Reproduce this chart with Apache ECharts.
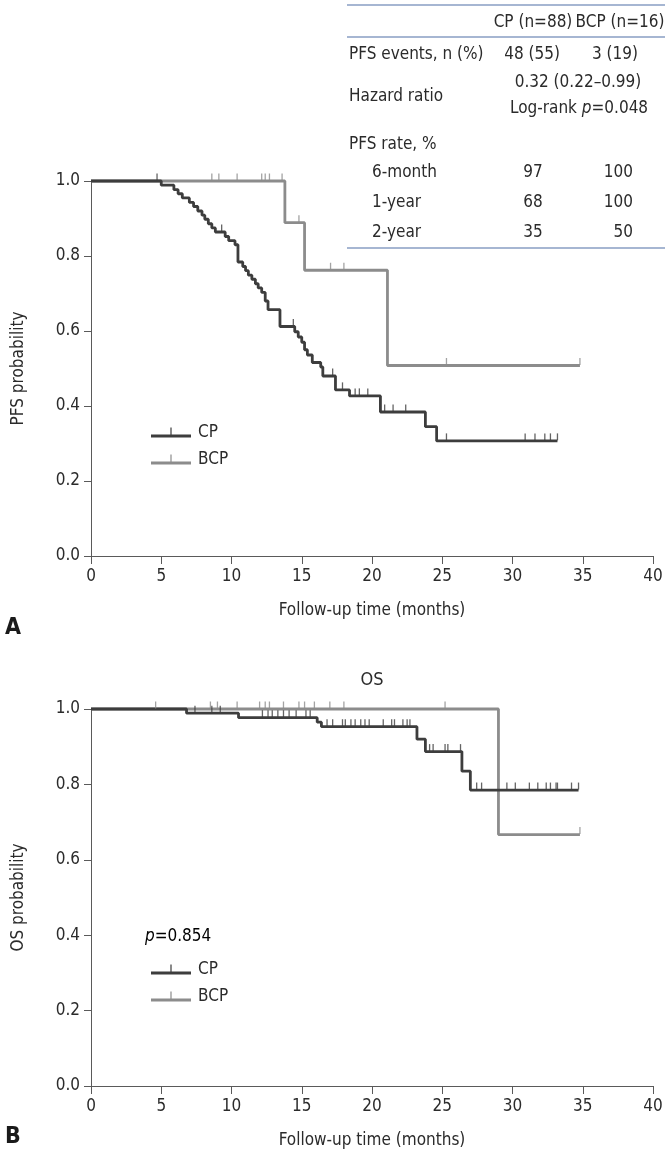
<!DOCTYPE html>
<html><head><meta charset="utf-8">
<script src="https://cdn.jsdelivr.net/npm/echarts@6/dist/echarts.min.js"></script>
<style>html,body{margin:0;padding:0;background:#fff}#c{width:668px;height:1156px}</style>
</head><body><div id="c"></div>
<script>
// ---------- data ----------
const xTicks = [0, 40, 5];            // min, max, interval (months)
const yTicks = [0, 1, 0.2];           // min, max, interval
const seriesNames = ['CP', 'BCP'];

// PFS, CP (Kaplan-Meier steps)
const pfsCpTime = [0, 5.0, 5.9, 6.2, 6.5, 7.0, 7.3, 7.6, 7.9, 8.1, 8.35, 8.6, 8.85, 9.55, 9.8, 10.25, 10.46, 10.8, 11.0, 11.2, 11.45, 11.7, 11.9, 12.15, 12.4, 12.6, 13.45, 14.5, 14.75, 15.0, 15.2, 15.4, 15.75, 16.35, 16.5, 17.4, 18.4, 20.6, 23.8, 24.6, 33.2];
const pfsCpSurv = [1, 0.989, 0.977, 0.966, 0.955, 0.943, 0.932, 0.920, 0.909, 0.898, 0.886, 0.875, 0.864, 0.852, 0.841, 0.830, 0.784, 0.772, 0.761, 0.749, 0.738, 0.726, 0.715, 0.703, 0.680, 0.657, 0.612, 0.598, 0.584, 0.570, 0.550, 0.536, 0.516, 0.504, 0.480, 0.443, 0.427, 0.384, 0.345, 0.307, 0.307];
const pfsCpCensor = [4.7, 9.3, 14.4, 17.2, 17.9, 18.8, 19.1, 19.7, 20.9, 21.5, 22.4, 25.3, 30.9, 31.6, 32.3, 32.7, 33.2];

// PFS, BCP
const pfsBcpTime = [0, 13.8, 15.2, 21.1, 34.8];
const pfsBcpSurv = [1, 0.889, 0.762, 0.508, 0.508];
const pfsBcpCensor = [8.6, 9.1, 10.4, 12.15, 12.4, 12.7, 13.6, 14.8, 17.05, 18.0, 25.3, 34.8];

// OS, CP
const osCpTime = [0, 6.8, 10.5, 16.1, 16.4, 23.2, 23.8, 26.4, 27.0, 34.7];
const osCpSurv = [1, 0.989, 0.977, 0.965, 0.953, 0.920, 0.887, 0.835, 0.785, 0.785];
const osCpCensor = [7.4, 8.6, 9.2, 12.2, 12.6, 12.9, 13.3, 13.7, 14.1, 14.6, 15.3, 15.6, 16.8, 17.2, 17.9, 18.1, 18.5, 18.8, 19.2, 19.5, 19.8, 20.8, 21.4, 21.6, 22.2, 22.5, 22.7, 24.1, 24.35, 25.2, 25.4, 26.3, 27.45, 27.8, 29.6, 30.2, 31.2, 31.8, 32.4, 32.7, 33.1, 33.2, 34.2, 34.7];

// OS, BCP
const osBcpTime = [0, 29.0, 34.8];
const osBcpSurv = [1, 0.667, 0.667];
const osBcpCensor = [4.6, 8.5, 9.0, 10.4, 12.0, 12.4, 12.7, 13.7, 14.8, 15.2, 15.9, 17.0, 18.0, 25.2, 34.8];

// table
const tableHead = ['CP (n=88)', 'BCP (n=16)'];
const tableEvents = ['PFS events, n (%)', '48 (55)', '3 (19)'];
const tableHazard = ['Hazard ratio', '0.32 (0.22\u20130.99)', '0.048'];
const tableRateTitle = 'PFS rate, %';
const tableRates = [['6-month', '97', '100'], ['1-year', '68', '100'], ['2-year', '35', '50']];
const osPValue = '0.854';

// ---------- helpers ----------
const FONT = "'Liberation Sans Narrow','DejaVu Sans Condensed','Roboto Condensed',sans-serif";
const TXT = '#2b2b2b';
const AX = '#5a5a5a';
const DARK = '#3d3d3d';
const GRAY = '#8c8c8c';
const BLUE = '#4f6fa6';

function zip(t, s) { return t.map((v, i) => [v, s[i]]); }
function levelAt(t, s, x) { let v = s[0]; for (let i = 0; i < t.length; i++) { if (t[i] <= x) v = s[i]; } return v; }
function censorPts(t, s, c) { return c.map(x => [x, levelAt(t, s, x)]); }

const chart = echarts.init(document.getElementById('c'));

function xAxisCfg(gi) {
  return {
    gridIndex: gi, type: 'value', min: xTicks[0], max: xTicks[1], interval: xTicks[2],
    name: 'Follow-up time (months)', nameLocation: 'middle', nameGap: 46,
    nameTextStyle: { fontFamily: FONT, fontSize: 17, color: TXT },
    axisLine: { show: true, onZero: false, lineStyle: { color: AX, width: 1 } },
    axisTick: { show: true, length: 8, lineStyle: { color: AX } },
    axisLabel: { fontFamily: FONT, fontSize: 17, color: TXT, margin: 12 },
    splitLine: { show: false }
  };
}
function yAxisCfg(gi, name) {
  return {
    gridIndex: gi, type: 'value', min: yTicks[0], max: yTicks[1], interval: yTicks[2],
    name: name, nameLocation: 'middle', nameGap: 64, nameRotate: 90,
    nameTextStyle: { fontFamily: FONT, fontSize: 17, color: TXT },
    axisLine: { show: true, onZero: false, lineStyle: { color: AX, width: 1 } },
    axisTick: { show: true, length: 7, lineStyle: { color: AX } },
    axisLabel: { fontFamily: FONT, fontSize: 17, color: TXT, margin: 11, formatter: v => v.toFixed(1) },
    splitLine: { show: false }
  };
}
function kmLine(name, gi, t, s, color, z) {
  return {
    name: name, type: 'line', step: 'end', xAxisIndex: gi, yAxisIndex: gi,
    data: zip(t, s), symbol: 'none', showSymbol: false, clip: false, z: z,
    lineStyle: { color: color, width: 2.8 }, itemStyle: { color: color }
  };
}
function kmCensor(name, gi, t, s, c, color, z) {
  return {
    name: name, type: 'scatter', xAxisIndex: gi, yAxisIndex: gi, silent: true,
    data: censorPts(t, s, c), symbol: 'rect', symbolSize: [1.3, 7], symbolOffset: [0, -4],
    clip: false, z: z, itemStyle: { color: color }
  };
}
const legendIcon = 'path://M0,7H40V10H0Z M19.4,0H20.6V7H19.4Z';
function legendCfg(top) {
  return {
    data: seriesNames, left: 146, top: top, orient: 'vertical', itemGap: 10,
    itemWidth: 40, itemHeight: 10, icon: legendIcon, selectedMode: false,
    textStyle: { fontFamily: FONT, fontSize: 17, color: TXT, padding: [0, 0, 0, 2] }
  };
}

// table graphics
const tStyle = (txt, x, y, align, extra) => ({ type: 'text', x: x, y: y, style: Object.assign({ text: txt, fontFamily: FONT, fontSize: 17, fill: TXT, align: align, verticalAlign: 'middle' }, extra || {}) });
const hline = (y) => ({ type: 'line', shape: { x1: 347, y1: y, x2: 665, y2: y }, style: { stroke: BLUE, lineWidth: 1.2 } });
const graphics = [
  hline(5), hline(37), hline(248),
  tStyle(tableHead[0], 533, 23, 'center'),
  tStyle(tableHead[1], 620, 23, 'center'),
  tStyle(tableEvents[0], 349, 55, 'left'),
  tStyle(tableEvents[1], 532, 55, 'center'),
  tStyle(tableEvents[2], 615, 55, 'center'),
  tStyle(tableHazard[0], 349, 97, 'left'),
  tStyle(tableHazard[1], 578, 83, 'center'),
  { type: 'text', x: 579, y: 109, style: { text: '{n|Log-rank }{i|p}{n|=' + tableHazard[2] + '}', align: 'center', verticalAlign: 'middle',
      rich: { n: { fontFamily: FONT, fontSize: 17, fill: TXT, color: TXT }, i: { fontFamily: FONT, fontSize: 17, fontStyle: 'italic', fill: TXT, color: TXT } } } },
  tStyle(tableRateTitle, 349, 145, 'left'),
];
tableRates.forEach((r, i) => {
  const y = 173 + i * 30;
  graphics.push(tStyle(r[0], 372, y, 'left'));
  graphics.push(tStyle(r[1], 533, y, 'center'));
  graphics.push(tStyle(r[2], 633, y, 'right'));
});
graphics.push({ type: 'text', x: 372, y: 680, style: { text: 'OS', fontFamily: FONT, fontSize: 18, fill: TXT, align: 'center', verticalAlign: 'middle' } });
graphics.push({ type: 'text', x: 145, y: 937, style: { text: '{i|p}{n|=' + osPValue + '}', align: 'left', verticalAlign: 'middle',
  rich: { n: { fontFamily: FONT, fontSize: 17, color: TXT }, i: { fontFamily: FONT, fontSize: 17, fontStyle: 'italic', color: TXT } } } });
graphics.push({ type: 'text', x: 5, y: 628, style: { text: 'A', fontFamily: FONT, fontSize: 23, fontWeight: 'bold', fill: '#1a1a1a', align: 'left', verticalAlign: 'middle' } });
graphics.push({ type: 'text', x: 5, y: 1137, style: { text: 'B', fontFamily: FONT, fontSize: 23, fontWeight: 'bold', fill: '#1a1a1a', align: 'left', verticalAlign: 'middle' } });

chart.setOption({
  animation: false,
  backgroundColor: '#fff',
  grid: [
    { left: 91, top: 181, width: 562, height: 375, containLabel: false },
    { left: 91, top: 709, width: 562, height: 377, containLabel: false }
  ],
  xAxis: [xAxisCfg(0), xAxisCfg(1)],
  yAxis: [yAxisCfg(0, 'PFS probability'), yAxisCfg(1, 'OS probability')],
  legend: [legendCfg(419), legendCfg(956)],
  series: [
    kmLine('BCP', 0, pfsBcpTime, pfsBcpSurv, GRAY, 2),
    kmLine('CP', 0, pfsCpTime, pfsCpSurv, DARK, 3),
    kmCensor('BCP censored', 0, pfsBcpTime, pfsBcpSurv, pfsBcpCensor, GRAY, 4),
    kmCensor('CP censored', 0, pfsCpTime, pfsCpSurv, pfsCpCensor, DARK, 4),
    kmLine('BCP', 1, osBcpTime, osBcpSurv, GRAY, 2),
    kmLine('CP', 1, osCpTime, osCpSurv, DARK, 3),
    kmCensor('BCP censored', 1, osBcpTime, osBcpSurv, osBcpCensor, GRAY, 4),
    kmCensor('CP censored', 1, osCpTime, osCpSurv, osCpCensor, DARK, 4)
  ],
  graphic: graphics
});
</script></body></html>
